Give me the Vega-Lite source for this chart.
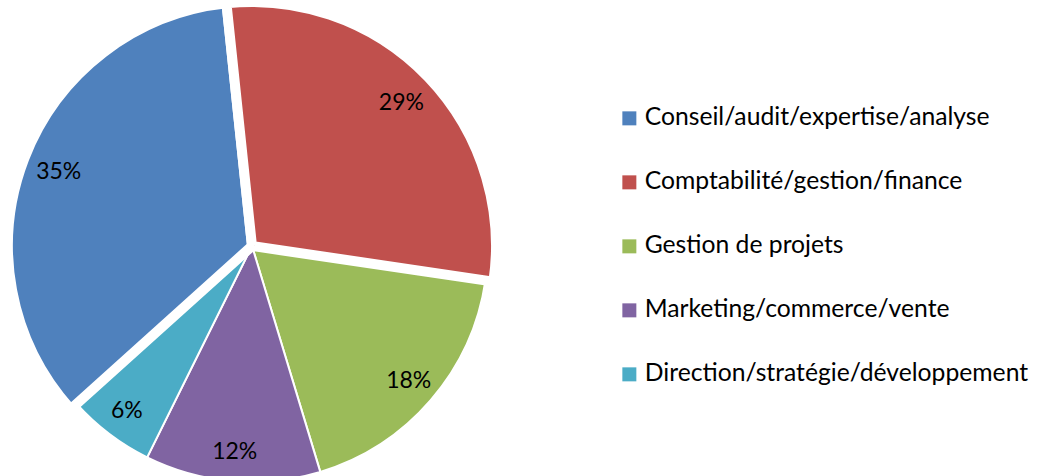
{
  "$schema": "https://vega.github.io/schema/vega-lite/v6.json",
  "autosize": {"type": "none"},
  "width": 504,
  "height": 492,
  "padding": {"left": 0, "top": 0, "right": 542, "bottom": 0},
  "background": "white",
  "config": {"view": {"stroke": null}, "font": "Lato"},
  "data": {"values": [
    {"cat": "Conseil/audit/expertise/analyse", "value": 35, "label": "35%"},
    {"cat": "Comptabilité/gestion/finance", "value": 29, "label": "29%"},
    {"cat": "Gestion de projets", "value": 18, "label": "18%"},
    {"cat": "Marketing/commerce/vente", "value": 12, "label": "12%"},
    {"cat": "Direction/stratégie/développement", "value": 6, "label": "6%"}
  ]},
  "layer": [
    {
      "transform": [
        {"stack": "value", "groupby": [], "sort": [{"field": "value", "order": "descending"}], "as": ["v0", "v1"]},
        {"filter": "datum.value < 29"}
      ],
      "mark": {"type": "arc", "stroke": "white", "strokeWidth": 2, "radius": 236},
      "encoding": {
        "theta": {"field": "v0", "type": "quantitative", "scale": {"domain": [0, 100], "range": [-2.304, 3.979]}},
        "theta2": {"field": "v1"},
        "color": {
          "field": "cat", "type": "nominal",
          "scale": {
            "domain": ["Conseil/audit/expertise/analyse", "Comptabilité/gestion/finance", "Gestion de projets", "Marketing/commerce/vente", "Direction/stratégie/développement"],
            "range": ["#4F81BD", "#C0504D", "#9BBB59", "#8064A2", "#4BACC6"]
          },
          "legend": {
            "title": null, "orient": "none", "legendX": 617, "legendY": 106,
            "symbolType": "square", "symbolSize": 196, "symbolStrokeWidth": 0,
            "labelFontSize": 24.7, "labelColor": "#000000", "labelFont": "Lato",
            "rowPadding": 38, "labelOffset": 3, "labelLimit": 600
          }
        }
      }
    },
    {
      "transform": [
        {"stack": "value", "groupby": [], "sort": [{"field": "value", "order": "descending"}], "as": ["v0", "v1"]},
        {"filter": "datum.value >= 29"}
      ],
      "mark": {"type": "arc", "stroke": "white", "strokeWidth": 10, "radius": 244},
      "encoding": {
        "theta": {"field": "v0", "type": "quantitative"},
        "theta2": {"field": "v1"},
        "color": {"field": "cat", "type": "nominal"}
      }
    },
    {
      "mark": {"type": "text", "fontSize": 23, "color": "#000000", "font": "Lato", "radius": 207},
      "encoding": {
        "text": {"field": "label"},
        "theta": {"field": "value", "type": "quantitative", "stack": true},
        "order": {"field": "value", "type": "quantitative", "sort": "descending"}
      }
    }
  ]
}
